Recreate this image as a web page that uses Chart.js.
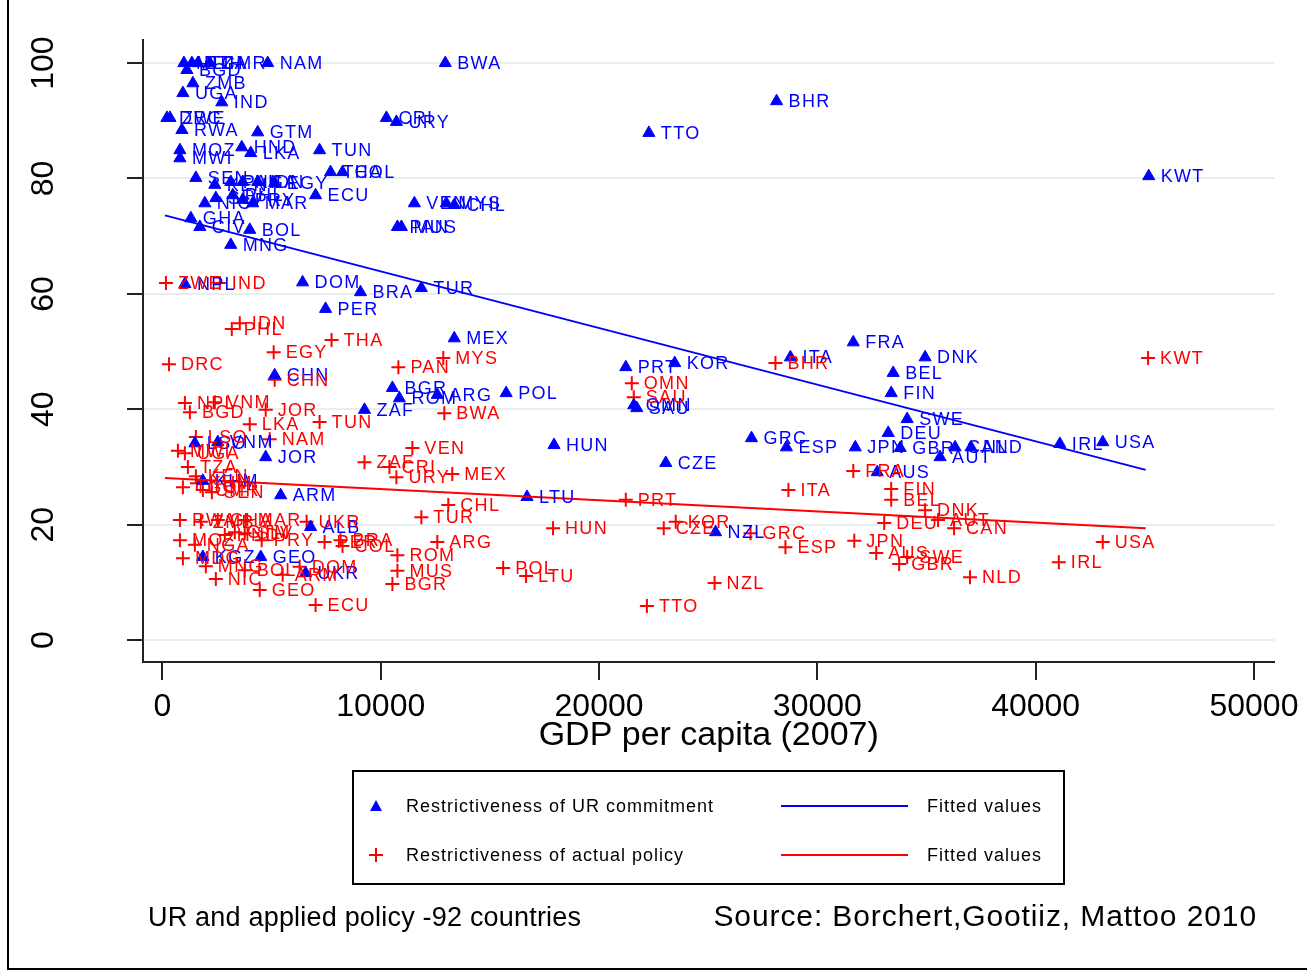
<!DOCTYPE html>
<html>
<head>
<meta charset="utf-8">
<script src="https://cdn.jsdelivr.net/npm/chart.js@4.4.1/dist/chart.umd.min.js"></script>
<style>
body { margin: 0; background: #fff; font-family: "Liberation Sans", Arial, sans-serif; }
#wrap { position: relative; width: 1307px; height: 974px; overflow: hidden; background: #fff; }
#frame { position: absolute; left: 7px; top: -10px; width: 1330px; height: 980px; border: 2px solid #000; box-sizing: border-box; }
#chart { position: absolute; left: 0; top: 0; }
#legend { position: absolute; left: 352px; top: 770px; width: 713px; height: 115px; border: 2px solid #000; box-sizing: border-box; }
.lg { position: absolute; font-size: 18px; letter-spacing: 1px; line-height: 24px; height: 24px; color: #000; white-space: nowrap; }
.foot { position: absolute; font-size: 27px; line-height: 32px; color: #000; white-space: nowrap; }
</style>
</head>
<body>
<div id="wrap">
  <div id="frame"></div>
  <canvas id="chart" width="1307" height="974"></canvas>
  <div id="legend"></div>
  <div style="position:absolute;left:370px;top:800px;width:0;height:0;border-left:6px solid transparent;border-right:6px solid transparent;border-bottom:11px solid #0000ff;"></div>
  <div class="lg" style="left:406px;top:794px;">Restrictiveness of UR commitment</div>
  <div style="position:absolute;left:781px;top:805px;width:127px;height:2px;background:#0000ff;"></div>
  <div class="lg" style="left:927px;top:794px;">Fitted values</div>
  <div style="position:absolute;left:369px;top:854px;width:14px;height:2px;background:#ff0000;"></div>
  <div style="position:absolute;left:375px;top:848px;width:2px;height:14px;background:#ff0000;"></div>
  <div class="lg" style="left:406px;top:843px;">Restrictiveness of actual policy</div>
  <div style="position:absolute;left:781px;top:854px;width:127px;height:2px;background:#ff0000;"></div>
  <div class="lg" style="left:927px;top:843px;">Fitted values</div>
  <div class="foot" style="left:148px;top:901px;letter-spacing:0.2px;">UR and applied policy -92 countries</div>
  <div class="foot" style="right:50px;top:900px;font-size:30px;letter-spacing:0.9px;">Source: Borchert,Gootiiz, Mattoo 2010</div>
</div>
<script>
// UR commitment (blue triangles)
const urNames = ['MLI','ETH','TZA','CMR','NAM','BWA','BGD','ZMB','UGA','IND','DRC','ZWE','RWA','GTM','MOZ','HND','LKA','MWI','TUN','THA','COL','SEN','KEN','PAK','NGA','IDN','EGY','ECU','NIC','SLV','PHL','PRY','MAR','GHA','CIV','BOL','MNG','CRI','URY','VEN','MYS','CHL','PAN','MUS','DOM','BRA','TUR','PER','NPL','MEX','CHN','BGR','ROM','ARG','POL','ZAF','HUN','CZE','LTU','PRT','KOR','OMN','SAU','NZL','GRC','ESP','ITA','FRA','JPN','GBR','DNK','BEL','FIN','SWE','DEU','AUS','AUT','CAN','NLD','IRL','USA','TTO','BHR','KWT','JOR','KGZ','GEO','ARM','ALB','UKR','LSO','VNM','KHM'];
const urGdp = [983,1348,1622,2171,4821,12956,1120,1394,937,2719,206,343,891,4364,800,3633,4045,800,7198,7700,8249,1531,2399,3130,3679,4364,5141,7015,1942,2445,3222,3679,4136,1302,1714,3999,3130,10260,10717,11539,13002,13367,10763,10946,6421,9072,11860,7472,1028,13367,5141,10534,10854,12591,15744,9255,17937,23056,16701,21225,23466,21591,21728,25338,26984,28583,28766,31645,31737,33794,34936,33474,33383,34114,33246,32743,35622,36308,37039,41107,43072,22282,28132,45179,4730,1851,4502,5416,6787,6558,1485,2536,1851];
const urScore = [100,100,100,100,100,100,98.8,96.5,94.8,93.2,90.5,90.5,88.4,88.0,84.9,85.4,84.4,83.5,84.9,81.1,81.1,80.1,78.9,79.4,79.4,79.4,79.2,77.1,75.7,76.6,77.1,76.3,75.7,73.1,71.6,71.1,68.5,90.5,89.8,75.7,75.7,75.4,71.6,71.6,62.0,60.3,61.0,57.4,61.7,52.3,45.9,43.7,41.9,42.5,42.8,39.9,33.8,30.7,24.8,47.3,48.0,40.7,40.2,18.7,35.0,33.4,49.0,51.6,33.4,33.3,49.0,46.3,42.8,38.3,35.9,29.1,31.7,33.4,33.4,34.0,34.3,87.9,93.4,80.4,31.7,14.4,14.4,25.1,19.6,11.6,34.1,34.3,27.6];

// Actual policy (red crosses)
const apNames = ['ZWE','IND','IDN','PHL','THA','EGY','DRC','CHN','PAN','MYS','NPL','VNM','BGD','JOR','LKA','TUN','NAM','LSO','MWI','UGA','TZA','KEN','TGO','CMR','SEN','ZAF','CRI','URY','MEX','VEN','BWA','CHL','TUR','ARG','ROM','MUS','BGR','POL','LTU','HUN','PRT','OMN','SAU','TTO','KOR','CZE','NZL','GRC','ESP','ITA','BHR','FRA','JPN','AUS','SWE','GBR','FIN','BEL','DNK','AUT','DEU','CAN','NLD','IRL','USA','KWT','RWA','ZMB','GHA','MAR','UKR','MOZ','HND','GTM','SLV','PRY','PER','BRA','COL','MDG','MNG','BOL','DOM','ARM','NIC','GEO','ECU','KHM','NGA'];
const apGdp = [160,2628,3542,3176,7746,5096,297,5141,10808,12865,1028,2399,1257,4730,3999,7198,4913,1531,708,1028,1165,1531,937,1851,2262,9255,10397,10717,13276,11448,12911,13094,11860,12591,10763,10763,10534,15607,16658,17892,21225,21500,21591,22191,23512,22964,25292,26938,28537,28674,28080,31645,31691,32697,34114,33748,33383,33383,34936,35530,33063,36262,36993,41061,43072,45150,800,1760,2536,3816,6604,800,2856,3313,3770,4547,7426,8157,8249,937,1988,3770,6284,5507,2445,4456,7015,1577,1485];
const apScore = [61.9,61.9,54.9,53.9,52.0,49.9,47.8,45.1,47.3,48.9,41.1,41.2,39.5,39.9,37.4,37.8,34.8,35.2,32.8,32.4,30.0,28.4,26.5,26.0,25.6,30.8,30.0,28.2,28.8,33.3,39.3,23.4,21.3,17.0,14.7,12.0,9.7,12.5,11.1,19.4,24.3,44.5,42.1,5.9,20.5,19.4,9.9,18.5,16.1,26.0,48.0,29.3,17.2,15.1,14.4,13.2,26.2,24.3,22.5,20.8,20.3,19.4,10.9,13.5,17.0,48.9,20.8,20.5,20.8,20.8,20.5,17.3,18.2,18.7,18.5,17.3,17.0,17.3,16.3,14.2,12.8,12.1,12.7,11.3,10.6,8.7,6.1,27.2,16.5];

// Fitted lines (end points)
const fitGdp = [114, 45040];
const urFit = [73.6, 29.5];
const apFit = [28.1, 19.4];

const xTicks = [0, 10000, 20000, 30000, 40000, 50000];
const yTicks = [0, 20, 40, 60, 80, 100];

const pts = (xs, ys) => xs.map((x, i) => ({ x: x, y: ys[i] }));
const FONT = '"Liberation Sans", Arial, sans-serif';

const pointLabels = {
  id: 'pointLabels',
  afterDatasetsDraw(chart) {
    const ctx = chart.ctx;
    ctx.save();
    ctx.font = '18px ' + FONT;
    ctx.letterSpacing = '1.3px';
    ctx.textBaseline = 'middle';
    chart.data.datasets.forEach((ds, i) => {
      if (!ds.names) return;
      ctx.fillStyle = ds.borderColor;
      chart.getDatasetMeta(i).data.forEach((p, j) => {
        ctx.fillText(ds.names[j], p.x + 12, p.y + 1);
      });
    });
    ctx.restore();
  }
};

// rotated y tick labels, as in the original
const yTickLabels = {
  id: 'yTickLabels',
  afterDraw(chart) {
    const s = chart.scales.y, ctx = chart.ctx;
    ctx.save();
    ctx.font = '32px ' + FONT;
    ctx.fillStyle = '#000';
    ctx.textAlign = 'center';
    ctx.textBaseline = 'middle';
    s.ticks.forEach(t => {
      ctx.save();
      ctx.translate(44, s.getPixelForValue(t.value));
      ctx.rotate(-Math.PI / 2);
      ctx.fillText(String(t.value), 0, 0);
      ctx.restore();
    });
    ctx.restore();
  }
};

new Chart(document.getElementById('chart').getContext('2d'), {
  type: 'scatter',
  data: {
    datasets: [
      {
        data: pts(fitGdp, urFit), type: 'line', showLine: true, pointRadius: 0,
        borderColor: '#0000ff', borderWidth: 2, fill: false
      },
      {
        data: pts(fitGdp, apFit), type: 'line', showLine: true, pointRadius: 0,
        borderColor: '#ff0000', borderWidth: 2, fill: false
      },
      {
        data: pts(urGdp, urScore), names: urNames,
        pointStyle: 'triangle', pointRadius: 7,
        backgroundColor: '#0000ff', borderColor: '#0000ff', borderWidth: 1
      },
      {
        data: pts(apGdp, apScore), names: apNames,
        pointStyle: 'cross', pointRadius: 7,
        backgroundColor: '#ff0000', borderColor: '#ff0000', borderWidth: 2
      }
    ]
  },
  options: {
    responsive: false,
    animation: false,
    devicePixelRatio: 1,
    layout: { padding: { left: 0, top: 40, right: 30, bottom: 212 } },
    plugins: { legend: { display: false }, tooltip: { enabled: false } },
    scales: {
      x: {
        type: 'linear', min: -891, max: 50937,
        afterBuildTicks: s => { s.ticks = xTicks.map(v => ({ value: v })); },
        afterFit: s => { s.height = 100; },
        border: { color: '#222', width: 2 },
        grid: { drawOnChartArea: false, drawTicks: true, tickLength: 18, tickColor: '#222', lineWidth: 2 },
        ticks: { color: '#000', font: { family: FONT, size: 32 }, padding: 8, maxRotation: 0, callback: v => String(v) },
        title: { display: true, text: 'GDP per capita (2007)', color: '#000', font: { family: FONT, size: 34 }, padding: { top: 0, bottom: 6 } }
      },
      y: {
        type: 'linear', min: -3.8, max: 104,
        afterBuildTicks: s => { s.ticks = yTicks.map(v => ({ value: v })); },
        afterFit: s => { s.width = 143; },
        border: { color: '#222', width: 2 },
        grid: { color: '#e6eef0', lineWidth: 2, drawTicks: true, tickLength: 16, tickColor: '#222' },
        ticks: { display: false }
      }
    }
  },
  plugins: [pointLabels, yTickLabels]
});
</script>
</body>
</html>
